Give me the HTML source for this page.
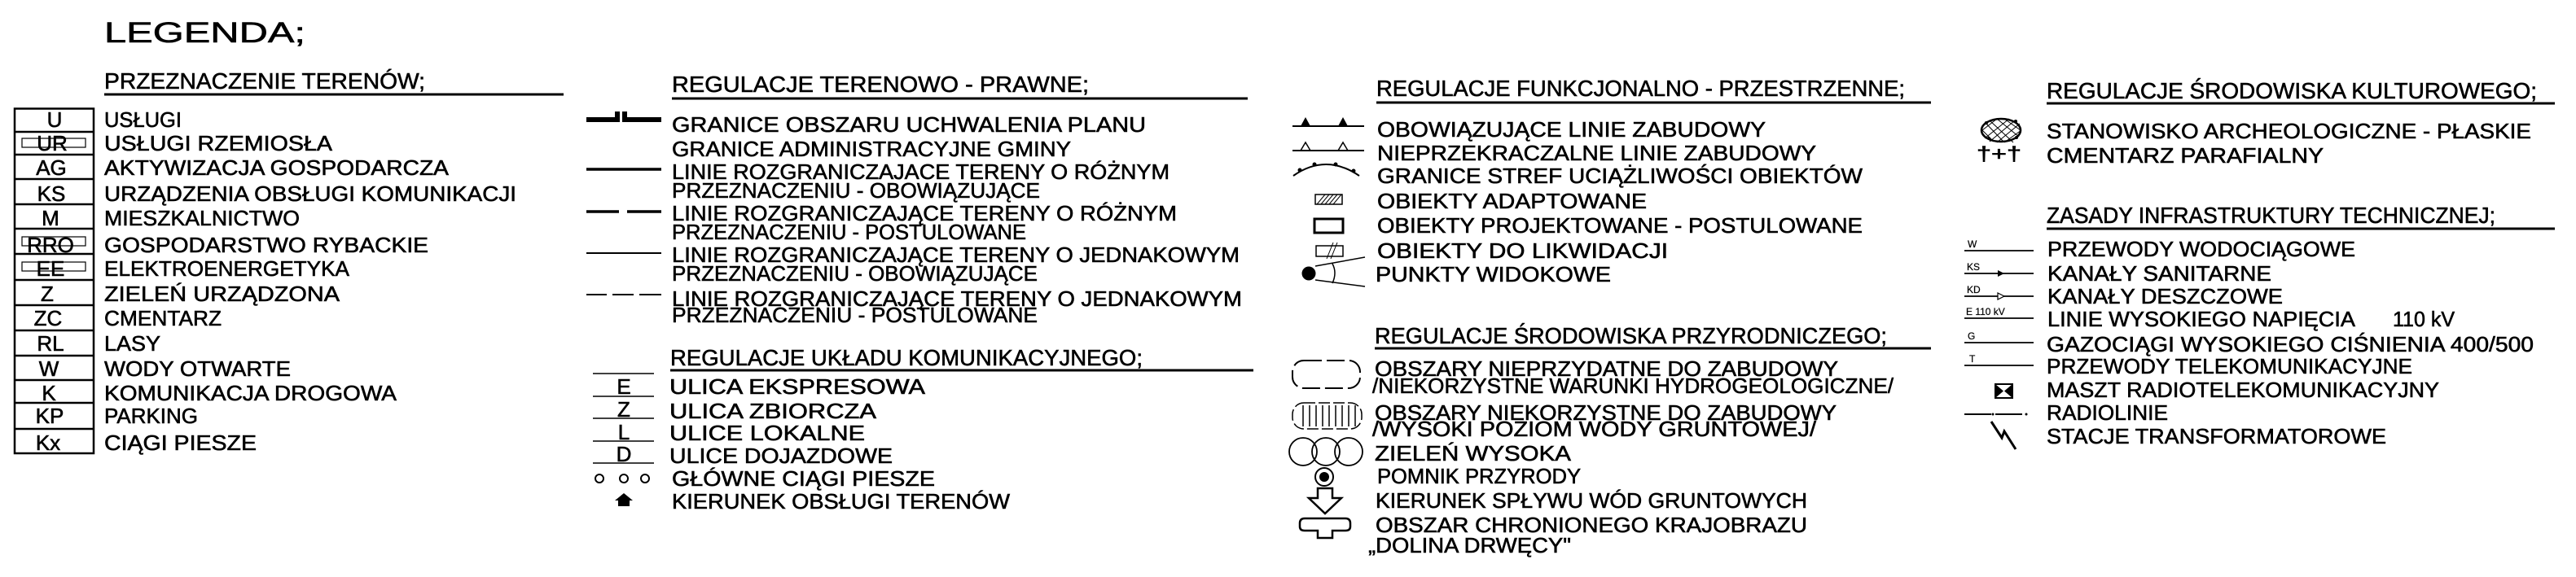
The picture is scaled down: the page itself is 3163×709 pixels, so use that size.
<!DOCTYPE html>
<html><head><meta charset="utf-8"><style>
html,body{margin:0;padding:0;background:#fff;}
svg{display:block;}
text{font-family:"Liberation Sans",sans-serif;font-size:26px;fill:#000;stroke:#000;stroke-width:0.6px;}
.h{font-size:28px;}
.s{font-size:12px;stroke-width:0.2px;}
</style></head><body>
<svg width="3163" height="709" viewBox="0 0 3163 709" xmlns="http://www.w3.org/2000/svg">
<g fill="none" stroke="#000">
<!-- col1 -->
<line x1="128" y1="116" x2="692" y2="116" stroke-width="3"/>
<rect x="18" y="133.5" width="97" height="423.5" stroke-width="2.5"/>
<path d="M18 162H115M18 190H115M18 220H115M18 251H115M18 281H115M18 312H115M18 344H115M18 375H115M18 406H115M18 437H115M18 467H115M18 495H115M18 527H115" stroke-width="2.5"/>
<rect x="27" y="170" width="78" height="11" stroke-width="1.2"/>
<rect x="27" y="291" width="78" height="11" stroke-width="1.2"/>
<rect x="27" y="322" width="78" height="11" stroke-width="1.2"/>
<!-- col2 -->
<line x1="825" y1="121" x2="1532" y2="121" stroke-width="3"/>
<path d="M720 147H758V137M767 137V147H812" stroke-width="6"/>
<line x1="720" y1="208" x2="812" y2="208" stroke-width="3.5"/>
<path d="M720 260H760M770 260H812" stroke-width="3.5"/>
<line x1="720" y1="311" x2="812" y2="311" stroke-width="2"/>
<path d="M720 362H745M752 362H778M785 362H812" stroke-width="2"/>
<line x1="823" y1="455" x2="1539" y2="455" stroke-width="3"/>
<path d="M728 459H803M728 487H803M728 514H803M728 542H803M728 569H803" stroke-width="1.5"/>
<circle cx="736" cy="588" r="5" stroke-width="2"/><circle cx="766" cy="588" r="5" stroke-width="2"/><circle cx="792" cy="588" r="5" stroke-width="2"/>
<!-- col3 -->
<line x1="1690" y1="126" x2="2371" y2="126" stroke-width="3"/>
<line x1="1587" y1="155" x2="1675" y2="155" stroke-width="2"/>
<line x1="1587" y1="185" x2="1675" y2="185" stroke-width="2"/>
<path d="M1597 185L1603 175L1609 185M1643 185L1649 175L1655 185" stroke-width="1.5"/>
<path d="M1588 216Q1628 188 1669 216" stroke-width="2"/>
<rect x="1615" y="239" width="33" height="12" stroke-width="1.5"/>
<path d="M1617 251L1627 239M1622 251L1632 239M1627 251L1637 239M1632 251L1642 239M1637 251L1647 239" stroke-width="1"/>
<rect x="1614" y="269" width="35" height="17" stroke-width="3"/>
<rect x="1616" y="302" width="33" height="13" stroke-width="1.5"/>
<path d="M1629 318L1637 298M1634 318L1642 298" stroke-width="1"/>
<path d="M1615 327L1676 316M1615 344L1676 352M1636 324Q1642 335 1636 348" stroke-width="1.5"/>
<line x1="1688" y1="428" x2="2371" y2="428" stroke-width="3"/>
<rect x="1587" y="443" width="83" height="34" rx="14" stroke-width="2" stroke-dasharray="22 6"/>
<rect x="1587" y="495" width="85" height="32" rx="14" stroke-width="1.5" stroke-dasharray="14 4"/>
<path d="M1600 498V524M1608 498V524M1616 498V524M1624 498V524M1632 498V524M1640 498V524M1648 498V524M1656 498V524M1664 498V524" stroke-width="1.5"/>
<circle cx="1600" cy="555" r="17" stroke-width="1.8"/><circle cx="1628" cy="555" r="17" stroke-width="1.8"/><circle cx="1656" cy="555" r="17" stroke-width="1.8"/>
<circle cx="1626" cy="586" r="11" stroke-width="2"/>
<path d="M1618 600H1636V612H1647L1627 631L1607 612H1618Z" stroke-width="2.5"/>
<path d="M1602 637H1652Q1658 637 1658 643V647Q1658 652 1652 652H1636V661H1618V652H1602Q1596 652 1596 647V643Q1596 637 1602 637Z" stroke-width="2.5"/>
<!-- col4 -->
<line x1="2513" y1="127" x2="3137" y2="127" stroke-width="3"/>
<ellipse cx="2457" cy="160" rx="24" ry="14" stroke-width="2.5"/>
<path d="M2437 150L2460 174M2443 148L2472 175M2452 146L2479 168M2461 146L2481 160M2434 160L2448 174M2437 170L2467 146M2443 174L2474 148M2452 175L2480 152M2461 175L2482 160M2434 160L2452 146" stroke-width="1"/>
<line x1="2513" y1="281" x2="3137" y2="281" stroke-width="3"/>
<path d="M2412 308H2497M2412 336H2497M2412 364H2497M2412 391H2497M2412 421H2497M2412 449H2497" stroke-width="1.8"/>
<path d="M2412 509H2445M2450 509H2483" stroke-width="2"/>
<rect x="2450" y="472" width="21" height="17" stroke-width="2"/>
<path d="M2445 518L2458 538L2461 530L2475 552" stroke-width="3"/>
</g>
<g fill="#000">
<path d="M1597 155L1603 144L1609 155ZM1643 155L1649 144L1655 155Z"/>
<circle cx="1596" cy="209" r="2.5"/><circle cx="1614" cy="202" r="2.5"/><circle cx="1640" cy="202" r="2.5"/><circle cx="1662" cy="210" r="2.5"/>
<circle cx="1607" cy="336" r="8.5"/>
<circle cx="1626" cy="586" r="6"/>
<path d="M766 606L777 615H773V622H759V615H755Z"/>
<path d="M2461 336L2453 332V340Z"/>
<path d="M2450 472L2460 480.5L2450 489ZM2471 472L2461 480.5L2471 489Z"/>
<circle cx="2439" cy="151" r="2"/><circle cx="2475" cy="149" r="2"/><circle cx="2442" cy="170" r="2"/><circle cx="2476" cy="169" r="2"/>
<circle cx="2488" cy="509" r="1.5"/><circle cx="2447" cy="509" r="1.5"/>
</g>
<path d="M2461 364L2453 360V368Z" fill="#fff" stroke="#000" stroke-width="1.2"/>

<!-- col1 text -->
<text x="128" y="52" style="font-size:35px" textLength="247" lengthAdjust="spacingAndGlyphs">LEGENDA;</text>
<text class="h" x="128" y="109" textLength="394" lengthAdjust="spacingAndGlyphs">PRZEZNACZENIE  TERENÓW;</text>
<g text-anchor="middle">
<text x="67" y="156">U</text><text x="64" y="185">UR</text><text x="63" y="215">AG</text><text x="63" y="247">KS</text><text x="62" y="277">M</text><text x="62" y="310">RRO</text><text x="62" y="339">EE</text><text x="58" y="370">Z</text><text x="59" y="400">ZC</text><text x="62" y="431">RL</text><text x="60" y="462">W</text><text x="60" y="492">K</text><text x="61" y="520">KP</text><text x="59" y="553">Kx</text>
</g>
<text x="128" y="156" textLength="95" lengthAdjust="spacingAndGlyphs">USŁUGI</text>
<text x="128" y="185" textLength="280" lengthAdjust="spacingAndGlyphs">USŁUGI  RZEMIOSŁA</text>
<text x="128" y="215" textLength="423" lengthAdjust="spacingAndGlyphs">AKTYWIZACJA  GOSPODARCZA</text>
<text x="128" y="247" textLength="506" lengthAdjust="spacingAndGlyphs">URZĄDZENIA  OBSŁUGI  KOMUNIKACJI</text>
<text x="128" y="277" textLength="240" lengthAdjust="spacingAndGlyphs">MIESZKALNICTWO</text>
<text x="128" y="310" textLength="398" lengthAdjust="spacingAndGlyphs">GOSPODARSTWO  RYBACKIE</text>
<text x="128" y="339" textLength="301" lengthAdjust="spacingAndGlyphs">ELEKTROENERGETYKA</text>
<text x="128" y="370" textLength="289" lengthAdjust="spacingAndGlyphs">ZIELEŃ  URZĄDZONA</text>
<text x="128" y="400" textLength="144" lengthAdjust="spacingAndGlyphs">CMENTARZ</text>
<text x="128" y="431" textLength="69" lengthAdjust="spacingAndGlyphs">LASY</text>
<text x="128" y="462" textLength="229" lengthAdjust="spacingAndGlyphs">WODY  OTWARTE</text>
<text x="128" y="492" textLength="359" lengthAdjust="spacingAndGlyphs">KOMUNIKACJA  DROGOWA</text>
<text x="128" y="520" textLength="115" lengthAdjust="spacingAndGlyphs">PARKING</text>
<text x="128" y="553" textLength="187" lengthAdjust="spacingAndGlyphs">CIĄGI  PIESZE</text>

<!-- col2 text -->
<text class="h" x="825" y="113" textLength="512" lengthAdjust="spacingAndGlyphs">REGULACJE  TERENOWO - PRAWNE;</text>
<text x="825" y="162" textLength="582" lengthAdjust="spacingAndGlyphs">GRANICE  OBSZARU  UCHWALENIA  PLANU</text>
<text x="825" y="192" textLength="490" lengthAdjust="spacingAndGlyphs">GRANICE  ADMINISTRACYJNE  GMINY</text>
<text x="825" y="220" textLength="611" lengthAdjust="spacingAndGlyphs">LINIE  ROZGRANICZAJACE  TERENY  O  RÓŻNYM</text>
<text x="825" y="243" textLength="452" lengthAdjust="spacingAndGlyphs">PRZEZNACZENIU - OBOWIĄZUJĄCE</text>
<text x="825" y="271" textLength="620" lengthAdjust="spacingAndGlyphs">LINIE  ROZGRANICZAJĄCE  TERENY  O  RÓŻNYM</text>
<text x="825" y="294" textLength="435" lengthAdjust="spacingAndGlyphs">PRZEZNACZENIU - POSTULOWANE</text>
<text x="825" y="322" textLength="697" lengthAdjust="spacingAndGlyphs">LINIE  ROZGRANICZAJĄCE  TERENY  O  JEDNAKOWYM</text>
<text x="825" y="345" textLength="449" lengthAdjust="spacingAndGlyphs">PRZEZNACZENIU - OBOWIĄZUJĄCE</text>
<text x="825" y="376" textLength="700" lengthAdjust="spacingAndGlyphs">LINIE  ROZGRANICZAJĄCE  TERENY  O  JEDNAKOWYM</text>
<text x="825" y="396" textLength="449" lengthAdjust="spacingAndGlyphs">PRZEZNACZENIU - POSTULOWANE</text>
<text class="h" x="823" y="449" textLength="580" lengthAdjust="spacingAndGlyphs">REGULACJE  UKŁADU  KOMUNIKACYJNEGO;</text>
<g text-anchor="middle"><text x="766" y="484">E</text><text x="766" y="512">Z</text><text x="766" y="540">L</text><text x="766" y="567">D</text></g>
<text x="822" y="484" textLength="314" lengthAdjust="spacingAndGlyphs">ULICA    EKSPRESOWA</text>
<text x="822" y="514" textLength="254" lengthAdjust="spacingAndGlyphs">ULICA    ZBIORCZA</text>
<text x="822" y="541" textLength="240" lengthAdjust="spacingAndGlyphs">ULICE   LOKALNE</text>
<text x="822" y="569" textLength="274" lengthAdjust="spacingAndGlyphs">ULICE   DOJAZDOWE</text>
<text x="825" y="597" textLength="323" lengthAdjust="spacingAndGlyphs">GŁÓWNE  CIĄGI  PIESZE</text>
<text x="825" y="625" textLength="415" lengthAdjust="spacingAndGlyphs">KIERUNEK  OBSŁUGI  TERENÓW</text>

<!-- col3 text -->
<text class="h" x="1690" y="118" textLength="649" lengthAdjust="spacingAndGlyphs">REGULACJE  FUNKCJONALNO - PRZESTRZENNE;</text>
<text x="1691" y="168" textLength="477" lengthAdjust="spacingAndGlyphs">OBOWIĄZUJĄCE  LINIE  ZABUDOWY</text>
<text x="1691" y="197" textLength="539" lengthAdjust="spacingAndGlyphs">NIEPRZEKRACZALNE  LINIE  ZABUDOWY</text>
<text x="1691" y="225" textLength="596" lengthAdjust="spacingAndGlyphs">GRANICE  STREF  UCIĄŻLIWOŚCI  OBIEKTÓW</text>
<text x="1691" y="256" textLength="331" lengthAdjust="spacingAndGlyphs">OBIEKTY  ADAPTOWANE</text>
<text x="1691" y="286" textLength="596" lengthAdjust="spacingAndGlyphs">OBIEKTY  PROJEKTOWANE - POSTULOWANE</text>
<text x="1691" y="317" textLength="357" lengthAdjust="spacingAndGlyphs">OBIEKTY  DO  LIKWIDACJI</text>
<text x="1689" y="346" textLength="289" lengthAdjust="spacingAndGlyphs">PUNKTY   WIDOKOWE</text>
<text class="h" x="1688" y="422" textLength="629" lengthAdjust="spacingAndGlyphs">REGULACJE  ŚRODOWISKA  PRZYRODNICZEGO;</text>
<text x="1688" y="462" textLength="569" lengthAdjust="spacingAndGlyphs">OBSZARY  NIEPRZYDATNE  DO  ZABUDOWY</text>
<text x="1685" y="483" textLength="640" lengthAdjust="spacingAndGlyphs">/NIEKORZYSTNE  WARUNKI  HYDROGEOLOGICZNE/</text>
<text x="1688" y="516" textLength="567" lengthAdjust="spacingAndGlyphs">OBSZARY  NIEKORZYSTNE  DO  ZABUDOWY</text>
<text x="1685" y="536" textLength="545" lengthAdjust="spacingAndGlyphs">/WYSOKI  POZIOM  WODY  GRUNTOWEJ/</text>
<text x="1688" y="566" textLength="241" lengthAdjust="spacingAndGlyphs">ZIELEŃ  WYSOKA</text>
<text x="1691" y="594" textLength="250" lengthAdjust="spacingAndGlyphs">POMNIK  PRZYRODY</text>
<text x="1689" y="624" textLength="530" lengthAdjust="spacingAndGlyphs">KIERUNEK  SPŁYWU  WÓD  GRUNTOWYCH</text>
<text x="1689" y="654" textLength="530" lengthAdjust="spacingAndGlyphs">OBSZAR  CHRONIONEGO  KRAJOBRAZU</text>
<text x="1680" y="679" textLength="249" lengthAdjust="spacingAndGlyphs">„DOLINA  DRWĘCY"</text>

<!-- col4 text -->
<text class="h" x="2513" y="121" textLength="602" lengthAdjust="spacingAndGlyphs">REGULACJE  ŚRODOWISKA  KULTUROWEGO;</text>
<text x="2427" y="197" style="font-size:24px" textLength="55" lengthAdjust="spacingAndGlyphs">†+†</text>
<text x="2513" y="170" textLength="595" lengthAdjust="spacingAndGlyphs">STANOWISKO  ARCHEOLOGICZNE - PŁASKIE</text>
<text x="2513" y="200" textLength="340" lengthAdjust="spacingAndGlyphs">CMENTARZ  PARAFIALNY</text>
<text class="h" x="2513" y="274" textLength="551" lengthAdjust="spacingAndGlyphs">ZASADY  INFRASTRUKTURY  TECHNICZNEJ;</text>
<text class="s" x="2416" y="304">W</text>
<text class="s" x="2415" y="332">KS</text>
<text class="s" x="2415" y="360">KD</text>
<text class="s" x="2414" y="387">E  110 kV</text>
<text class="s" x="2416" y="417">G</text>
<text class="s" x="2418" y="445">T</text>
<text x="2514" y="315" textLength="378" lengthAdjust="spacingAndGlyphs">PRZEWODY  WODOCIĄGOWE</text>
<text x="2514" y="345" textLength="275" lengthAdjust="spacingAndGlyphs">KANAŁY  SANITARNE</text>
<text x="2514" y="373" textLength="289" lengthAdjust="spacingAndGlyphs">KANAŁY  DESZCZOWE</text>
<text x="2514" y="401" textLength="378" lengthAdjust="spacingAndGlyphs">LINIE  WYSOKIEGO  NAPIĘCIA</text>
<text x="2938" y="401" textLength="76" lengthAdjust="spacingAndGlyphs">110 kV</text>
<text x="2513" y="432" textLength="598" lengthAdjust="spacingAndGlyphs">GAZOCIĄGI  WYSOKIEGO  CIŚNIENIA  400/500</text>
<text x="2513" y="459" textLength="449" lengthAdjust="spacingAndGlyphs">PRZEWODY  TELEKOMUNIKACYJNE</text>
<text x="2513" y="488" textLength="482" lengthAdjust="spacingAndGlyphs">MASZT    RADIOTELEKOMUNIKACYJNY</text>
<text x="2513" y="516" textLength="149" lengthAdjust="spacingAndGlyphs">RADIOLINIE</text>
<text x="2513" y="545" textLength="417" lengthAdjust="spacingAndGlyphs">STACJE  TRANSFORMATOROWE</text>
</svg>
</body></html>
